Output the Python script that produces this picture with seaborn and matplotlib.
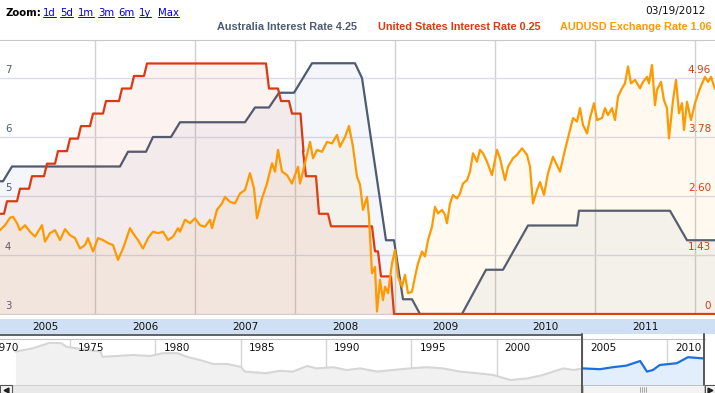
"""
Australia vs US interest rates and AUDUSD, Google Finance style chart
"""
import matplotlib
matplotlib.use('Agg')  # Non-interactive backend
import matplotlib.pyplot as plt
import matplotlib.dates as mdates
from matplotlib.lines import Line2D
from matplotlib.patches import Rectangle
import seaborn as sns
import numpy as np
import pandas as pd

# ---- data --------------------------------------------------------------
# Australia cash rate, corners of the line (decimal year, %)
au_year = [2005.05, 2005.08, 2005.17, 2006.25, 2006.33, 2006.51, 2006.58, 2006.76,
           2006.85, 2007.50, 2007.60, 2007.74, 2007.84, 2007.99, 2008.17, 2008.60,
           2008.67, 2008.91, 2008.99, 2009.08, 2009.17, 2009.25, 2009.67, 2009.91,
           2010.08, 2010.33, 2010.82, 2010.84, 2011.75, 2011.92, 2012.20]
au_rate = [5.25, 5.25, 5.5, 5.5, 5.75, 5.75, 6.0, 6.0,
           6.25, 6.25, 6.5, 6.5, 6.75, 6.75, 7.25, 7.25,
           7.0, 4.25, 4.25, 3.25, 3.25, 3.0, 3.0, 3.75,
           3.75, 4.5, 4.5, 4.75, 4.75, 4.25, 4.25]

# US fed funds rate: start level, then (decision date, new level)
us_start = 2.25
us_change_year = [2005.09, 2005.22, 2005.34, 2005.49, 2005.60, 2005.72, 2005.83, 2005.95,
                  2006.08, 2006.24, 2006.36, 2006.49, 2007.71, 2007.83, 2007.94, 2008.055,
                  2008.08, 2008.21, 2008.33, 2008.77, 2008.83, 2008.96]
us_change_rate = [2.5, 2.75, 3.0, 3.25, 3.5, 3.75, 4.0, 4.25,
                  4.5, 4.75, 5.0, 5.25, 4.75, 4.5, 4.25, 3.5,
                  3.0, 2.25, 2.0, 1.5, 1.0, 0.25]

# AUDUSD exchange rate
aud_year = [
    2005.05, 2005.10, 2005.15, 2005.18, 2005.22, 2005.25, 2005.30, 2005.35, 2005.40, 2005.43,
    2005.47, 2005.50, 2005.55, 2005.60, 2005.65, 2005.70, 2005.75, 2005.80, 2005.85, 2005.90,
    2005.93, 2005.98, 2006.03, 2006.08, 2006.13, 2006.18, 2006.23, 2006.28, 2006.35, 2006.38,
    2006.43, 2006.48, 2006.53, 2006.58, 2006.63, 2006.68, 2006.73, 2006.78, 2006.83, 2006.85,
    2006.90, 2006.95, 2007.00, 2007.05, 2007.10, 2007.15, 2007.17, 2007.22, 2007.27, 2007.30,
    2007.35, 2007.40, 2007.45, 2007.50, 2007.55, 2007.59, 2007.62, 2007.67, 2007.72, 2007.77,
    2007.80, 2007.83, 2007.87, 2007.92, 2007.97, 2008.00, 2008.03, 2008.05, 2008.10, 2008.15,
    2008.18, 2008.22, 2008.27, 2008.32, 2008.37, 2008.42, 2008.45, 2008.50, 2008.54, 2008.58,
    2008.62, 2008.65, 2008.68, 2008.72, 2008.74, 2008.77, 2008.80, 2008.82, 2008.85, 2008.88,
    2008.90, 2008.93, 2008.97, 2009.00, 2009.03, 2009.07, 2009.10, 2009.13, 2009.17, 2009.20,
    2009.23, 2009.27, 2009.30, 2009.33, 2009.37, 2009.40, 2009.43, 2009.47, 2009.50, 2009.52,
    2009.55, 2009.58, 2009.62, 2009.65, 2009.68, 2009.72, 2009.75, 2009.78, 2009.82, 2009.85,
    2009.88, 2009.92, 2009.97, 2010.02, 2010.05, 2010.10, 2010.13, 2010.18, 2010.22, 2010.27,
    2010.32, 2010.35, 2010.38, 2010.42, 2010.45, 2010.49, 2010.53, 2010.58, 2010.62, 2010.65,
    2010.70, 2010.75, 2010.78, 2010.82, 2010.85, 2010.88, 2010.92, 2010.95, 2010.99, 2011.02,
    2011.07, 2011.10, 2011.13, 2011.17, 2011.20, 2011.23, 2011.27, 2011.30, 2011.33, 2011.36,
    2011.40, 2011.45, 2011.48, 2011.52, 2011.54, 2011.57, 2011.60, 2011.62, 2011.66, 2011.69,
    2011.72, 2011.74, 2011.78, 2011.81, 2011.84, 2011.87, 2011.89, 2011.92, 2011.96, 2012.00,
    2012.05, 2012.10, 2012.13, 2012.16, 2012.20]
aud_rate = [
    .765, .775, .790, .792, .779, .765, .775, .762, .752, .762,
    .775, .742, .759, .765, .745, .767, .755, .749, .728, .735,
    .749, .722, .749, .745, .739, .735, .705, .728, .769, .759,
    .745, .728, .749, .762, .759, .762, .745, .752, .769, .762,
    .786, .779, .789, .775, .772, .786, .769, .806, .819, .832,
    .822, .819, .839, .846, .880, .849, .789, .829, .859, .900,
    .883, .927, .883, .876, .859, .876, .893, .859, .900, .943,
    .910, .927, .923, .943, .940, .957, .933, .953, .975, .933,
    .873, .857, .806, .832, .792, .678, .691, .601, .665, .624,
    .651, .638, .698, .725, .671, .651, .675, .638, .641, .671,
    .698, .722, .712, .745, .772, .812, .799, .806, .796, .779,
    .819, .836, .829, .839, .859, .866, .883, .920, .903, .927,
    .920, .903, .876, .927, .910, .866, .893, .910, .917, .930,
    .917, .893, .819, .846, .862, .836, .880, .913, .896, .883,
    .927, .967, .991, .984, 1.011, .977, .960, .991, 1.021, .987,
    .991, 1.011, .997, 1.011, .987, 1.034, 1.051, 1.061, 1.095, 1.061,
    1.068, 1.051, 1.064, 1.074, 1.061, 1.098, 1.017, 1.048, 1.064, 1.027,
    1.011, .950, 1.027, 1.068, 1.001, 1.021, .967, 1.024, .987, 1.021,
    1.051, 1.074, 1.064, 1.074, 1.050]

# long history in the navigator strip
nav_year = [1971.8, 1972.8, 1973.8, 1974.5, 1974.8, 1975.4, 1976.8, 1976.9, 1977.75, 1978.7,
            1979.7, 1980.45, 1981.3, 1981.85, 1982.6, 1983.4, 1984.2, 1985.0, 1985.25, 1986.5,
            1987.3, 1988.05, 1988.9, 1989.45, 1990.4, 1991.2, 1992.0, 1993.0, 1993.9, 1994.9,
            1995.9, 1996.85, 1997.85, 1998.85, 1999.8, 2000.8, 2001.8, 2002.7, 2003.9, 2004.5,
            2005.05, 2006.05, 2006.8, 2007.6, 2008.4, 2008.8, 2009.15, 2009.55, 2010.55, 2011.2,
            2012.1]
nav_rate = [1.21, 1.29, 1.43, 1.42, 1.33, 1.29, 1.21, 1.08, 1.10, 1.125,
            1.10, 1.17, 1.17, 1.08, 1.00, 0.90, 0.90, 0.83, 0.71, 0.67,
            0.73, 0.71, 0.85, 0.79, 0.82, 0.75, 0.79, 0.71, 0.75, 0.79,
            0.82, 0.79, 0.71, 0.67, 0.625, 0.50, 0.54, 0.625, 0.79, 0.75,
            0.79, 0.77, 0.82, 0.86, 0.975, 0.71, 0.75, 0.875, 0.92, 1.07,
            1.04]

au_ticks = [3, 4, 5, 6, 7]
us_ticks = [0.25, 1.43, 2.605, 3.78, 4.96]
us_tick_labels = ['0', '1.43', '2.60', '3.78', '4.96']
band_years = [2005, 2006, 2007, 2008, 2009, 2010, 2011]
nav_label_years = [1970, 1975, 1980, 1985, 1990, 1995, 2000, 2005, 2010]
zoom_links = ['1d', '5d', '1m', '3m', '6m', '1y', 'Max']
legend_items = [('Australia Interest Rate 4.25', '#4f5b70'),
                ('United States Interest Rate 0.25', '#dc3912'),
                ('AUDUSD Exchange Rate 1.06', '#ff9900')]

C_AU, C_US, C_FX = '#4d5b74', '#dc3912', '#ff9900'
W, H = 715, 393


def to_dates(years):
    years = np.asarray(years, dtype=float)
    return pd.to_datetime('2005-01-01') + pd.to_timedelta((years - 2005) * 365.25, unit='D')


def px_axes(fig, x0, y0, x1, y1):
    return fig.add_axes([x0 / W, 1 - y1 / H, (x1 - x0) / W, (y1 - y0) / H])


def fig_line(fig, xs, ys, **kw):
    fig.add_artist(Line2D([x / W for x in xs], [1 - y / H for y in ys], **kw))


# US steps -> line corners (short ramp like the sampled source data)
us_year, us_rate = [2005.05], [us_start]
prev = us_start
for t, r in zip(us_change_year, us_change_rate):
    us_year += [t, t + 0.03]
    us_rate += [prev, r]
    prev = r
us_year.append(2012.20)
us_rate.append(prev)

sns.set_style('white')
plt.rcParams['font.family'] = ['DejaVu Sans']

fig = plt.figure(figsize=(W / 100, H / 100), dpi=100)
fig.patch.set_facecolor('white')

# ---- main panel ----------------------------------------------------------
ax_au = px_axes(fig, 0, 40, 715, 315)
au_lo, au_hi = 2.983, 7.644
ax_us = ax_au.twinx()
ax_fx = ax_au.twinx()

series = [(ax_us, us_year, us_rate, C_US, '#dc3912', 0.06),
          (ax_au, au_year, au_rate, C_AU, '#4a6fa5', 0.06),
          (ax_fx, aud_year, aud_rate, C_FX, '#ff9900', 0.06)]
ylims = {ax_au: (au_lo, au_hi),
         ax_us: (0.25 + (au_lo - 3) * 1.1775, 0.25 + (au_hi - 3) * 1.1775),
         ax_fx: (0.596 + (au_lo - 3) * 0.11895, 0.596 + (au_hi - 3) * 0.11895)}
for ax, yrs, vals, c, fc, a in series:
    ax.fill_between(to_dates(yrs), vals, ylims[ax][0], color=fc, alpha=a, lw=0)
for ax, yrs, vals, c, fc, a in series:
    sns.lineplot(x=to_dates(yrs), y=vals, ax=ax, color=c, linewidth=1.6,
                 estimator=None, sort=False)

ax_au.set_xlabel('')
ax_au.set_ylabel('')
ax_au.set_yticks(au_ticks)
ax_au.xaxis.set_major_locator(mdates.YearLocator())
ax_au.xaxis.set_minor_locator(mdates.MonthLocator(bymonth=[4, 7, 10]))
xlim = to_dates([2005.05, 2012.20])
ax_au.set_xlim(xlim[0], xlim[1])
for ax, lim in ylims.items():
    ax.set_ylim(*lim)
for ax in (ax_us, ax_fx):
    ax.set_axis_off()

ax_au.tick_params(axis='y', length=0, labelleft=False)
ax_au.tick_params(axis='x', which='major', direction='out', length=4, width=1.2,
                  color='#222222', labelbottom=False)
ax_au.tick_params(axis='x', which='minor', direction='out', length=3.5, width=0.8,
                  color='#444444')
ax_au.grid(axis='y', color='#dcdcec', lw=1)
ax_au.grid(axis='x', which='major', color='#d0d0d0', lw=1)
for s in ('left', 'right', 'bottom'):
    ax_au.spines[s].set_visible(False)
ax_au.spines['top'].set_color('#c8c8c8')

for v in au_ticks:
    ax_au.annotate(str(v), xy=(0, v), xycoords=ax_au.get_yaxis_transform(),
                   xytext=(5, 8), textcoords='offset pixels', ha='left', va='center',
                   fontsize=7.3, color='#4a5a7a')
for v, s in zip(us_ticks, us_tick_labels):
    ax_us.annotate(s, xy=(1, v), xycoords=ax_us.get_yaxis_transform(),
                   xytext=(-4, 8), textcoords='offset pixels', ha='right', va='center',
                   fontsize=7.5, color='#dc3912')

# ---- year band ------------------------------------------------------------
ax_band = px_axes(fig, 0, 319, 715, 334)
ax_band.set_facecolor('#cfe0f5')
ax_band.set_xlim(xlim[0], xlim[1])
ax_band.set_ylim(0, 1)
for yr, d in zip(band_years, to_dates([y + 0.5 for y in band_years])):
    ax_band.text(d, 0.5, str(yr), ha='center', va='center', fontsize=7.5, color='#111111')
ax_band.set_xticks([])
ax_band.set_yticks([])
for s in ax_band.spines.values():
    s.set_visible(False)

fig_line(fig, [0, 582], [334.5, 334.5], color='#555555', lw=1.3)

# ---- navigator --------------------------------------------------------------
ax_nav = px_axes(fig, 0, 339, 705, 385)
nav_y = np.asarray(nav_year)
nav_v = np.asarray(nav_rate)
old = nav_y <= 2005.05
new = nav_y >= 2005.05
ax_nav.fill_between(nav_y[old], nav_v[old], 0.375, color='#f1f1f1', lw=0)
ax_nav.fill_between(nav_y[new], nav_v[new], 0.375, color='#e2eefc', lw=0)
sns.lineplot(x=nav_y[old], y=nav_v[old], ax=ax_nav, color='#d6d6d6', linewidth=1.5,
             estimator=None, sort=False)
sns.lineplot(x=nav_y[new], y=nav_v[new], ax=ax_nav, color='#1c6fe0', linewidth=1.6,
             estimator=None, sort=False)
ax_nav.set_xlabel('')
ax_nav.set_ylabel('')
ax_nav.set_xticks(nav_label_years[1:])
ax_nav.set_yticks([])
ax_nav.set_xlim(1970.9, 2012.2)
ax_nav.set_ylim(0.375, 1.525)
ax_nav.tick_params(axis='x', direction='in', length=4, width=1, color='#111111',
                   labelbottom=False)
ax_nav.grid(axis='x', color='#d4d4d4', lw=1)
for s in ('left', 'right', 'bottom'):
    ax_nav.spines[s].set_visible(False)
ax_nav.spines['top'].set_color('#c4c4c4')
for yr in nav_label_years:
    ax_nav.annotate(str(yr), xy=(yr, 0.8), xycoords=ax_nav.get_xaxis_transform(),
                    xytext=(8, 0), textcoords='offset pixels', ha='left', va='center',
                    fontsize=7.5, color='#111111')

# selection frame and scrollbar
fig_line(fig, [582, 582], [334, 393], color='#555555', lw=1.4)
fig_line(fig, [704, 704], [334, 385], color='#555555', lw=1.4)
fig.add_artist(Rectangle((12 / W, 0), 570 / W, 8 / H, transform=fig.transFigure,
                         facecolor='#e9e9e9', edgecolor='#c8c8c8', lw=0.6))
fig.add_artist(Rectangle((583 / W, 0), 121 / W, 8 / H, transform=fig.transFigure,
                         facecolor='#f3f3f3', edgecolor='#b8b8b8', lw=0.6))
for gx in [640, 642, 644, 646]:
    fig_line(fig, [gx, gx], [387, 392], color='#999999', lw=0.6)
fig.add_artist(Rectangle((0, 0), 12 / W, 8 / H, transform=fig.transFigure,
                         facecolor='#f5f5f5', edgecolor='#555555', lw=0.8))
fig.add_artist(Rectangle((705 / W, 0), 10 / W, 8 / H, transform=fig.transFigure,
                         facecolor='#f5f5f5', edgecolor='#555555', lw=0.8))
fig_line(fig, [6], [389.5], marker='<', ms=3.5, color='#222222', lw=0)
fig_line(fig, [710], [389.5], marker='>', ms=3.5, color='#222222', lw=0)

# ---- header ----------------------------------------------------------------
fig.text(5 / W, 1 - 15.5 / H, 'Zoom:', fontsize=7.3, fontweight='bold', color='black',
         va='baseline')
renderer = fig.canvas.get_renderer()
link_x = [43, 60, 78, 98, 118, 139, 158]
for x, s in zip(link_x, zoom_links):
    t = fig.text(x / W, 1 - 15.5 / H, s, fontsize=7.3, color='#0000cc', va='baseline')
    bb = t.get_window_extent(renderer)
    fig.add_artist(Line2D([bb.x0 / W, bb.x1 / W], [1 - 17 / H] * 2, color='#0000cc', lw=0.7))
fig.text(706 / W, 1 - 10.7 / H, '03/19/2012', fontsize=7.6, color='#111111',
         ha='right', va='center')

leg_x = [217, 378, 712]
for (s, c), x in zip(legend_items, leg_x):
    ha = 'right' if x == leg_x[-1] else 'left'
    fig.text(x / W, 1 - 26.7 / H, s, fontsize=7.8, fontweight='bold', color=c,
             ha=ha, va='center', family=['Liberation Sans', 'DejaVu Sans'])

fig.savefig('out.png', dpi=100)
plt.close(fig)
